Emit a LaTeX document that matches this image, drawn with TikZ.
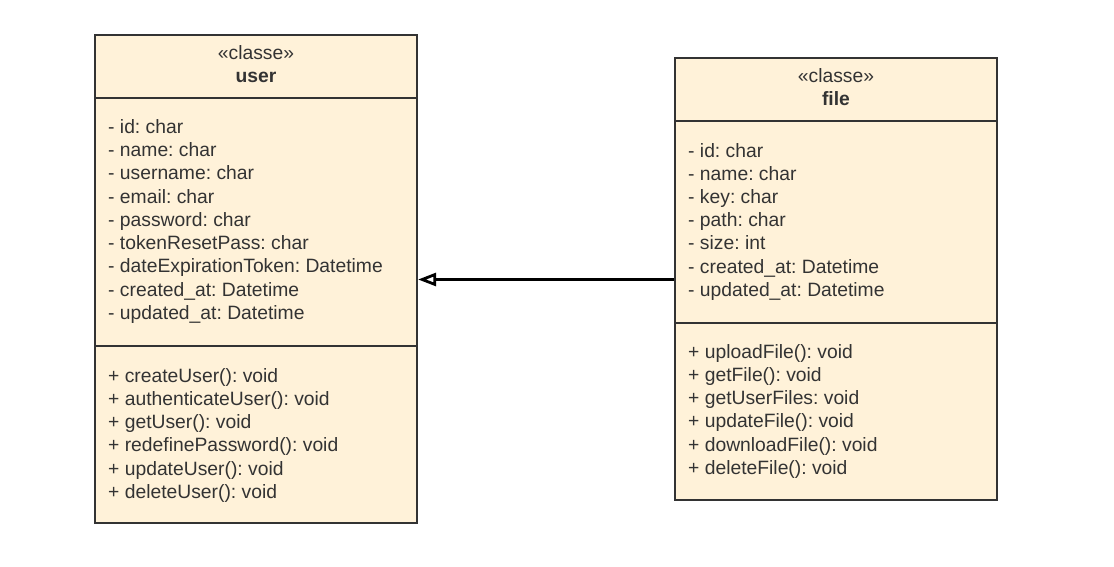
\documentclass[tikz,border=0pt]{standalone}
\usepackage{fontspec}
\setmainfont{Liberation Sans}
\usetikzlibrary{arrows.meta}
\definecolor{boxfill}{HTML}{FFF2D9}
\definecolor{boxline}{HTML}{333333}
\definecolor{txt}{HTML}{333333}
\frenchspacing
\begin{document}
\begin{tikzpicture}[x=1pt,y=-1pt,
  sect/.style={draw=boxline, line width=2.2pt, fill=boxfill, inner sep=0pt, minimum width=322pt},
  row/.style={anchor=base west, inner sep=0pt, font=\fontsize{19.3}{22}\selectfont, text=txt},
  head/.style={anchor=base, inner sep=0pt, font=\fontsize{19.3}{22}\selectfont, text=txt},
  assoc/.style={line width=2.8pt, draw=black, -{Triangle[open, length=18pt, width=13pt]}}
  ]
\useasboundingbox (0,0) rectangle (1114,567);
% user class
\node[sect, minimum height=63pt] (uh) at (256,66.5) {};
\node[sect, minimum height=248pt] (ua) at (256,222) {};
\node[sect, minimum height=177pt] (um) at (256,434.5) {};
\node[head] (uh1) at (256,60) {«classe»};
\node[head, font=\fontsize{19.3}{22}\selectfont\bfseries] (uh2) at (256,83) {user};
\foreach \t [count=\i] in {- id: char, - name: char, - username: char, - email: char, - password: char, - tokenResetPass: char, - dateExpirationToken: Datetime, - created\_at: Datetime, - updated\_at: Datetime}
  \node[row] (ua\i) at (108,{133.3+23.25*(\i-1)}) {\t};
\foreach \t [count=\i] in {+ createUser(): void, + authenticateUser(): void, + getUser(): void, + redefinePassword(): void, + updateUser(): void, + deleteUser(): void}
  \node[row] (um\i) at (108,{382.3+23.2*(\i-1)}) {\t};
% file class
\node[sect, minimum height=63pt] (fh) at (836,89.5) {};
\node[sect, minimum height=202pt] (fa) at (836,222) {};
\node[sect, minimum height=177pt] (fm) at (836,411.5) {};
\node[head] (fh1) at (836,83) {«classe»};
\node[head, font=\fontsize{19.3}{22}\selectfont\bfseries] (fh2) at (836,106) {file};
\foreach \t [count=\i] in {- id: char, - name: char, - key: char, - path: char, - size: int, - created\_at: Datetime, - updated\_at: Datetime}
  \node[row] (fa\i) at (688,{157.3+23.17*(\i-1)}) {\t};
\foreach \t [count=\i] in {+ uploadFile(): void, + getFile(): void, + getUserFiles: void, + updateFile(): void, + downloadFile(): void, + deleteFile(): void}
  \node[row] (fm\i) at (688,{358.3+23.2*(\i-1)}) {\t};
% association
\coordinate (ast) at ([yshift=-57.5pt]fa.west);
\draw[assoc] (ast) -- (ast -| ua.east);
\end{tikzpicture}
\end{document}
